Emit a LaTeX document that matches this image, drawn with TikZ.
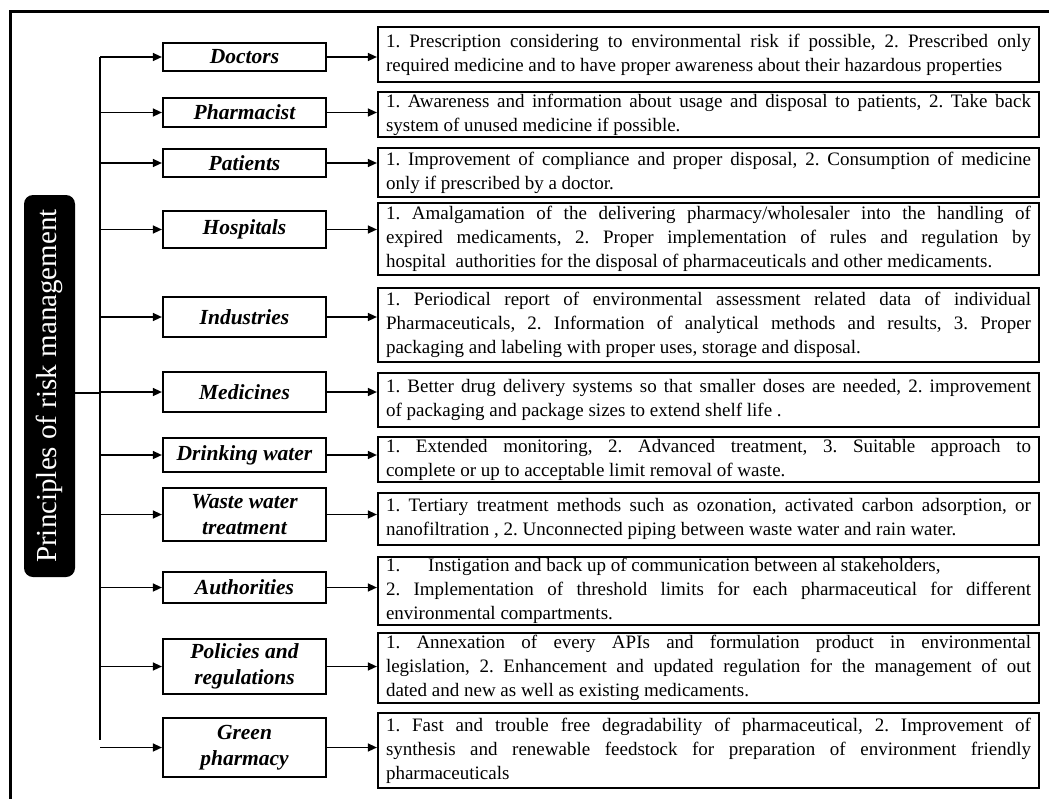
\documentclass[tikz,border=0pt]{standalone}
\usepackage{fontspec}
\setmainfont{Liberation Serif}
\usetikzlibrary{arrows.meta}
\frenchspacing

\begin{document}
\begin{tikzpicture}[x=1pt,y=-1pt,
  actor/.style={draw, line width=2.2pt, minimum width=163pt, inner sep=0pt,
    align=center, font=\fontsize{21.5}{26}\selectfont\bfseries\itshape},
  desc/.style={draw, line width=2.2pt, text width=645pt, inner xsep=8pt, inner ysep=0pt,
    align=justify, font=\fontsize{19}{24}\selectfont},
  headbox/.style={fill=black, rounded corners=9pt, rotate=90, text=white,
    minimum width=382pt, minimum height=51pt, inner sep=0pt,
    font=\fontsize{29}{32}\selectfont},
  link/.style={line width=1.4pt, -{Triangle[length=9pt,width=8pt]}},
  trunk/.style={line width=2.6pt},
  frame/.style={line width=3pt}
]
% canvas and outer frame (only its top and left sides fall inside the page)
\clip (0,0) rectangle (1049,798);
\draw[frame] (10,830) -- (10,11) -- (1080,11);

% title bar
\node[headbox] (title) at (49.5,386) {Principles of risk management};

% stakeholders
\node[actor, minimum height=28pt] (doc) at (244.5,57)   {Doctors};
\node[actor, minimum height=29pt] (pha) at (244.5,112.5) {Pharmacist};
\node[actor, minimum height=28pt] (pat) at (244.5,163)  {Patients};
\node[actor, minimum height=37pt] (hos) at (244.5,229.5) {Hospitals};
\node[actor, minimum height=40pt] (ind) at (244.5,317)  {Industries};
\node[actor, minimum height=40pt] (med) at (244.5,392)  {Medicines};
\node[actor, minimum height=34pt] (dri) at (244.5,455)  {Drinking water};
\node[actor, minimum height=53pt] (was) at (244.5,514.5) {Waste water\\treatment};
\node[actor, minimum height=31pt] (aut) at (244.5,587.5) {Authorities};
\node[actor, minimum height=55pt] (pol) at (244.5,666.5) {Policies and\\regulations};
\node[actor, minimum height=59pt] (gre) at (244.5,747.5) {Green\\pharmacy};

% measures for each stakeholder
\node[desc, minimum height=55pt] (rdoc) at (708.5,54.5) {1. Prescription considering to environmental risk if possible, 2. Prescribed only\linebreak required medicine and to have proper awareness about their hazardous properties};
\node[desc, minimum height=45pt] (rpha) at (708.5,114.5) {1. Awareness and information about usage and disposal to patients, 2. Take back\linebreak system of unused medicine if possible.};
\node[desc, minimum height=49pt] (rpat) at (708.5,172.5) {1. Improvement of compliance and proper disposal, 2. Consumption of medicine\linebreak only if prescribed by a doctor.};
\node[desc, minimum height=72pt] (rhos) at (708.5,239) {1. Amalgamation of the delivering pharmacy/wholesaler into the handling of\linebreak expired medicaments, 2. Proper implementation of rules and regulation by\linebreak hospital\ \ authorities for the disposal of pharmaceuticals and other medicaments.};
\node[desc, minimum height=74pt] (rind) at (708.5,325) {1. Periodical report of environmental assessment related data of individual\linebreak Pharmaceuticals, 2. Information of analytical methods and results, 3. Proper\linebreak packaging and labeling with proper uses, storage and disposal.};
\node[desc, minimum height=54pt] (rmed) at (708.5,400) {1. Better drug delivery systems so that smaller doses are needed, 2. improvement\linebreak of packaging and package sizes to extend shelf life .};
\node[desc, minimum height=45pt] (rdri) at (708.5,459.5) {1. Extended monitoring, 2. Advanced treatment, 3. Suitable approach to\linebreak complete or up to acceptable limit removal of waste.};
\node[desc, minimum height=52pt] (rwas) at (708.5,519) {1. Tertiary treatment methods such as ozonation, activated carbon adsorption, or\linebreak nanofiltration , 2. Unconnected piping between waste water and rain water.};
\node[desc, minimum height=68pt] (raut) at (708.5,591) {1.\hspace{28pt}Instigation and back up of communication between al stakeholders,\\ 2. Implementation of threshold limits for each pharmaceutical for different\linebreak environmental compartments.};
\node[desc, minimum height=70pt] (rpol) at (708.5,668) {1. Annexation of every APIs and formulation product in environmental\linebreak legislation, 2. Enhancement and updated regulation for the management of out\linebreak dated and new as well as existing medicaments.};
\node[desc, minimum height=75pt] (rgre) at (708.5,750.5) {1. Fast and trouble free degradability of pharmaceutical, 2. Improvement of\linebreak synthesis and renewable feedstock for preparation of environment friendly\linebreak pharmaceuticals};

% branching trunk
\coordinate (ttop) at (100,57);
\coordinate (tbot) at (100,740);
\coordinate (tjoin) at (100,393);
\draw[trunk] (ttop) -- (tbot);
\draw[trunk] (title.south |- tjoin) -- (tjoin);

\foreach \n in {doc,pha,pat,hos,ind,med,dri,was,aut,pol,gre}{
  \draw[link] (\n.west -| ttop) -- (\n.west);
  \draw[link] (\n.east) -- (\n.east -| r\n.west);
}
\end{tikzpicture}
\end{document}
